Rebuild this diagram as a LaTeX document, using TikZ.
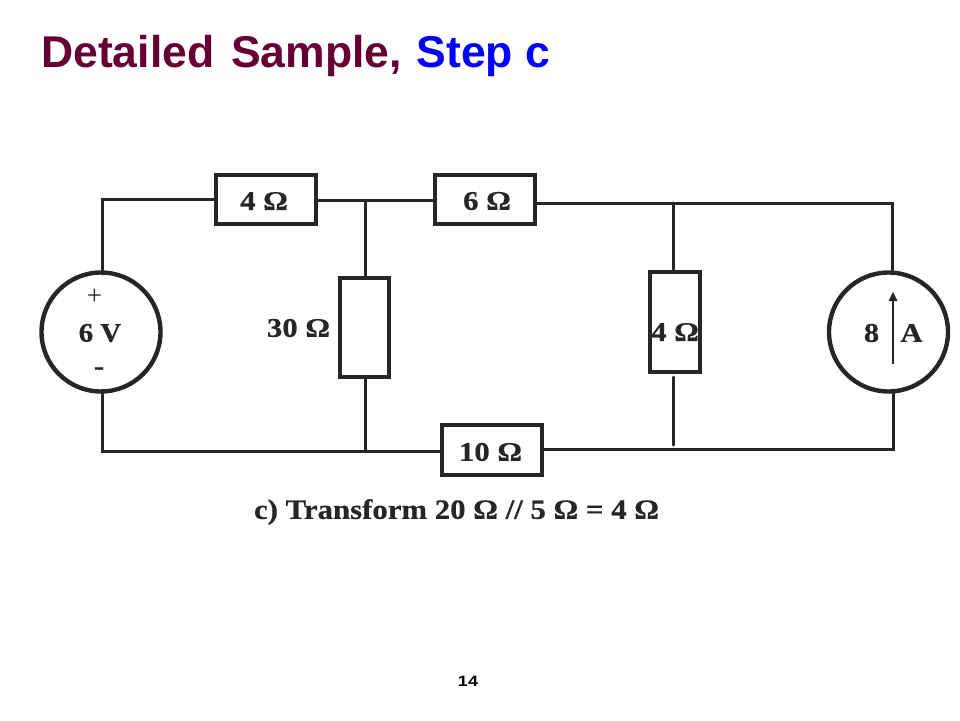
\documentclass[tikz,border=0pt]{standalone}
\usepackage{fontspec}
\setmainfont{Liberation Serif}
\newfontfamily\titlefont{Liberation Sans}
\newfontfamily\labelfont[FakeStretch=1.14,FakeBold=0.5]{Liberation Serif Bold}
\newfontfamily\shortlabelfont[FakeStretch=1.07,FakeBold=0.5]{Liberation Serif Bold}
\newfontfamily\captionfont[FakeStretch=1.10,FakeBold=0.5]{Liberation Serif Bold}
\newfontfamily\pagefont[FakeStretch=1.2]{Liberation Sans Bold}
\definecolor{titlemaroon}{HTML}{660033}
\definecolor{titleblue}{HTML}{0000FF}
\definecolor{inkc}{HTML}{262626}
\tikzset{
  wire/.style={draw=inkc,line width=3pt,line cap=round,line join=miter},
  resbox/.style={draw=inkc,line width=4pt,fill=white,inner sep=0pt,outer sep=0pt,rectangle,minimum width=#1},
  srcc/.style={draw=inkc,line width=4.4pt,circle,inner sep=0pt,outer sep=0pt,minimum size=119pt},
  lbl/.style={inner sep=0pt,text=inkc,font=\labelfont\fontsize{27}{30}\selectfont},
  captiontext/.style={inner sep=0pt,text=inkc,font=\captionfont\fontsize{28}{30}\selectfont},
  ttl/.style={inner sep=0pt,anchor=base west,font=\titlefont\fontsize{44.5}{50}\selectfont\bfseries},
  pagenum/.style={inner sep=0pt,text=black,font=\pagefont\fontsize{15}{18}\selectfont}
}
\begin{document}
\begin{tikzpicture}[x=1pt,y=-1pt]
\useasboundingbox (0,0) rectangle (960,720);
% title
\node[ttl] (title) at (41,67) {\textcolor{titlemaroon}{Detailed\hspace{4.5pt} Sample,}\hspace{2.5pt} \textcolor{titleblue}{Step c}};
% sources
\node[srcc] (vs) at (101,332) {};
\node[srcc] (is) at (888.5,332) {};
% resistors
\node[resbox=100pt,minimum height=49pt] (r4a) at (266,199) {};
\node[resbox=100pt,minimum height=49pt] (r6) at (485,199) {};
\node[resbox=49pt,minimum height=99pt] (r30) at (364,327.5) {};
\node[resbox=50pt,minimum height=100pt] (r4b) at (675,321.5) {};
\node[resbox=100pt,minimum height=50pt] (r10) at (491.5,449.5) {};
% corners and junctions
\coordinate (tl) at (102,199);
\coordinate (bl) at (102,451);
\coordinate (j1) at (365,200.5);
\coordinate (j2) at (365,451);
\coordinate (j3) at (673.5,203);
\coordinate (j4e) at (673.5,445);
\coordinate (r4bs) at (673.5,377);
\coordinate (tr) at (892,203);
\coordinate (br) at (893,449);
\coordinate (r6e) at (r6.east |- j3);
\coordinate (r10e) at (r10.east |- br);
\coordinate (vst) at (102,274);
\coordinate (vsb) at (102,390);
\coordinate (ist) at (892,274);
\coordinate (isb) at (893,390);
\coordinate (r1w) at (r4a.west |- tl);
\coordinate (r1e) at (r4a.east |- j1);
\coordinate (r2w) at (r6.west |- j1);
\coordinate (r30t) at (j1 |- r30.north);
\coordinate (r30b) at (j1 |- r30.south);
\coordinate (r4bt) at (j3 |- r4b.north);
\coordinate (r10w) at (r10.west |- j2);
\coordinate (arrt) at (893,292);
\coordinate (arrb) at (893,364);
% wires
\draw[wire] (vst) -- (tl) -- (r1w);
\draw[wire] (r1e) -- (r2w);
\draw[wire] (r6e) -- (tr) -- (ist);
\draw[wire] (j1) -- (r30t);
\draw[wire] (r30b) -- (j2);
\draw[wire] (j3) -- (r4bt);
\draw[wire] (r4bs) -- (j4e);
\draw[wire] (vsb) -- (bl) -- (r10w);
\draw[wire] (r10e) -- (br) -- (isb);
% arrow in current source
\draw[draw=inkc,line width=2.4pt] (arrb) -- (893,300);
\fill[inkc] (arrt) -- (888.5,301) -- (897.5,301) -- cycle;
% labels
\node[lbl] (l4a) at (264,201) {4 Ω};
\node[lbl] (l6) at (487,201) {6 Ω};
\node[lbl] (l30) at (298.5,328) {30 Ω};
\node[lbl] (l4b) at (675,332) {4 Ω};
\node[lbl] (l10) at (490.5,452) {10 Ω};
\node[lbl,font=\fontsize{27}{30}\selectfont] (lp) at (94.5,297) {+};
\node[lbl] (lm) at (99,371) {-};
\node[lbl,font=\shortlabelfont\fontsize{27}{30}\selectfont] (l6v) at (100,333) {6 V};
\node[lbl] (l8) at (871.5,333) {8};
\node[lbl] (la) at (911.5,333) {A};
\node[captiontext] (capt) at (456.5,512) {c) Transform 20 Ω // 5 Ω = 4 Ω};
\node[pagenum] (pn) at (468,681) {14};
\end{tikzpicture}
\end{document}
